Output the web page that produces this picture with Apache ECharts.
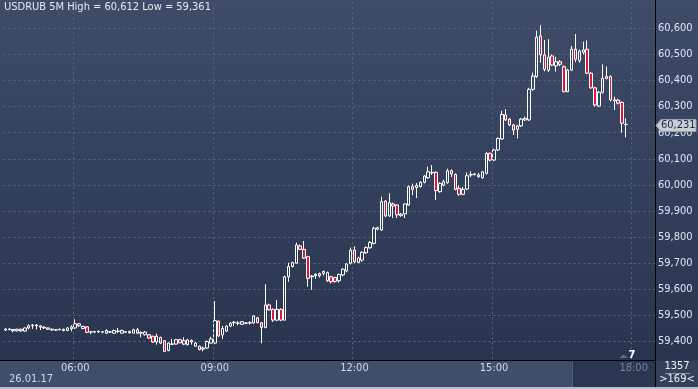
<!DOCTYPE html>
<html><head><meta charset="utf-8">
<script src="https://cdn.jsdelivr.net/npm/echarts@6/dist/echarts.min.js"></script>
<style>html,body{margin:0;padding:0;background:#2a3652;}#c{width:698px;height:389px;}</style>
</head><body><div id="c"></div>
<script>
// ---------- data ----------
const chartTitle = 'USDRUB 5M High = 60,612 Low = 59,361';
const dateLabel = '26.01.17';
const firstSlot = '04:30';          // time of first 5-minute bar
const slotMinutes = 5;
const slotCount = 168;              // visible 5-minute slots
const timeTicks = ['06:00', '09:00', '12:00', '15:00', '18:00'];
const dimTicks = ['18:00'];
const yMin = 59300, yMax = 60700, yStep = 100;
const yShownMin = 59400, yShownMax = 60600;
const lastPrice = 60231;
const footerTop = '1357';
const footerBottom = '>169<';
const markerText = '7';
// [open, close, low, high]
const candles = [
[59444,59448,59440,59450],[59448,59446,59442,59451],[59446,59441,59436,59448],[59441,59447,59438,59449],
[59447,59441,59437,59449],[59440,59452,59438,59454],[59452,59460,59447,59466],[59460,59463,59448,59467],
[59463,59460,59446,59467],[59460,59455,59444,59462],[59455,59452,59448,59457],[59452,59447,59444,59453],
[59447,59444,59441,59450],[59444,59445,59441,59448],[59445,59447,59443,59449],[59447,59442,59439,59449],
[59442,59452,59440,59455],[59449,59456,59439,59462],[59452,59468,59448,59485],[59468,59460,59456,59470],
[59450,59458,59447,59460],[59456,59435,59432,59458],[59436,59437,59428,59440],[59436,59438,59432,59441],
[59437,59439,59433,59442],[59437,59436,59432,59440],[59432,59442,59429,59447],[59437,59436,59432,59440],
[59432,59442,59429,59446],[59439,59440,59432,59452],[59432,59442,59430,59446],[59437,59436,59432,59440],
[59439,59433,59430,59441],[59432,59445,59430,59449],[59445,59432,59428,59452],[59432,59434,59416,59439],
[59426,59436,59423,59440],[59426,59413,59410,59428],[59420,59398,59395,59422],[59398,59420,59388,59430],
[59416,59394,59390,59418],[59403,59362,59361,59405],[59365,59394,59363,59396],[59389,59391,59388,59410],
[59390,59407,59388,59410],[59407,59395,59393,59410],[59390,59403,59386,59416],[59388,59406,59385,59410],
[59404,59398,59388,59408],[59382,59394,59380,59398],[59382,59369,59366,59384],[59371,59375,59362,59381],
[59375,59400,59372,59404],[59394,59410,59392,59418],[59394,59480,59390,59555],[59478,59421,59418,59480],
[59425,59450,59410,59460],[59440,59459,59436,59462],[59459,59470,59455,59474],[59472,59474,59459,59478],
[59471,59470,59462,59478],[59466,59476,59463,59478],[59471,59470,59466,59474],[59471,59472,59465,59478],
[59471,59498,59468,59500],[59491,59472,59470,59494],[59472,59454,59393,59474],[59454,59540,59450,59619],
[59540,59521,59518,59545],[59523,59482,59475,59527],[59482,59523,59478,59559],[59523,59482,59478,59527],
[59482,59648,59480,59652],[59648,59687,59629,59702],[59687,59702,59684,59706],[59700,59770,59698,59779],
[59766,59753,59750,59772],[59753,59719,59716,59785],[59725,59642,59610,59728],[59648,59651,59598,59655],
[59652,59657,59640,59662],[59660,59652,59645,59664],[59661,59668,59652,59672],[59633,59664,59628,59668],
[59648,59629,59622,59652],[59645,59630,59625,59648],[59633,59657,59625,59660],[59655,59677,59650,59680],
[59670,59697,59665,59700],[59700,59750,59695,59760],[59750,59706,59700,59765],[59703,59720,59700,59725],
[59712,59742,59705,59746],[59740,59760,59735,59765],[59759,59779,59755,59785],[59776,59834,59772,59840],
[59830,59836,59826,59840],[59827,59936,59825,59955],[59938,59881,59876,59942],[59881,59932,59878,59968],
[59927,59919,59873,59932],[59923,59885,59873,59926],[59888,59882,59878,59892],[59889,59927,59873,59930],
[59923,59993,59920,59998],[59993,59983,59960,60005],[59990,59998,59950,60007],[59993,60010,59990,60014],
[60010,60034,60006,60038],[60027,60050,60024,60070],[60046,60048,60038,60076],[60048,59978,59942,60052],
[59974,60006,59970,60010],[59999,60012,59995,60020],[60008,60054,60004,60062],[60054,60042,60030,60060],
[60040,59983,59979,60044],[59987,59964,59958,59998],[59964,59983,59960,59992],[59984,60035,59980,60048],
[60038,60040,60030,60052],[60040,60042,60036,60046],[60038,60031,60028,60046],[60027,60050,60024,60054],
[60044,60121,60040,60125],[60121,60095,60090,60124],[60095,60134,60092,60138],[60134,60178,60130,60182],
[60176,60270,60172,60284],[60268,60249,60245,60290],[60252,60230,60225,60256],[60230,60210,60191,60234],
[60213,60226,60178,60230],[60226,60252,60222,60256],[60249,60255,60245,60262],[60249,60366,60245,60372],
[60366,60417,60360,60430],[60415,60566,60410,60591],[60571,60498,60468,60612],[60498,60443,60435,60555],
[60440,60489,60432,60558],[60494,60459,60455,60500],[60456,60472,60434,60491],[60472,60462,60455,60478],
[60453,60357,60355,60458],[60357,60440,60355,60445],[60440,60520,60436,60532],[60520,60481,60470,60578],
[60476,60513,60468,60518],[60508,60517,60500,60549],[60520,60428,60424,60553],[60428,60372,60368,60432],
[60372,60306,60300,60376],[60302,60355,60298,60360],[60355,60408,60350,60462],[60415,60408,60404,60453],
[60415,60325,60320,60420],[60322,60326,60287,60338],[60325,60313,60308,60330],[60316,60236,60200,60320],
[60232,60231,60182,60255]
];

// ---------- build ----------
const categories = [];
(function () {
  let [h, m] = firstSlot.split(':').map(Number);
  let t = h * 60 + m;
  for (let i = 0; i < slotCount; i++, t += slotMinutes) {
    const hh = String(Math.floor(t / 60)).padStart(2, '0');
    const mm = String(t % 60).padStart(2, '0');
    categories.push(hh + ':' + mm);
  }
})();

const FONT = "'Liberation Sans Narrow','Arial Narrow','DejaVu Sans Condensed',sans-serif";
const fmt = v => String(Math.round(v)).replace(/\B(?=(\d{3})+(?!\d))/g, ',');

const chart = echarts.init(document.getElementById('c'), null, {renderer: 'canvas'});

function txt(x, y, text, fill, font, align) {
  return {type: 'text', z: 6, style: {x: x, y: y, text: text, fill: fill, font: font, align: align, verticalAlign: 'middle'}};
}

function graphics(priceY) {
  const g = [
    {type: 'rect', z: 1, shape: {x: 0, y: 360.5, width: 655, height: 27}, style: {fill: '#3f4f69'}},
    {type: 'rect', z: 1, shape: {x: 572, y: 361, width: 83, height: 26}, style: {fill: '#2b3651'}},
    {type: 'line', z: 1, shape: {x1: 572.5, y1: 361, x2: 572.5, y2: 387}, style: {stroke: '#4e5c75', lineWidth: 1}},
    {type: 'rect', z: 1, shape: {x: 656, y: 361, width: 42, height: 26}, style: {fill: '#33415b'}},
    {type: 'rect', z: 1, shape: {x: 0, y: 387, width: 698, height: 2}, style: {fill: '#b6bfcc'}},
    {type: 'line', z: 6, shape: {x1: 0, y1: 360.5, x2: 655, y2: 360.5}, style: {stroke: '#000', lineWidth: 1}},
    {type: 'line', z: 6, shape: {x1: 655.5, y1: 0, x2: 655.5, y2: 387}, style: {stroke: '#000', lineWidth: 1}},
    txt(677, 366.5, footerTop, '#eef2f7', '11px ' + FONT, 'center'),
    {type: 'line', z: 6, shape: {x1: 665, y1: 373.5, x2: 690, y2: 373.5}, style: {stroke: '#8c97a8', lineWidth: 1}},
    txt(677, 379.5, footerBottom, '#eef2f7', '11px ' + FONT, 'center'),
    txt(9, 379, dateLabel, '#c9dbf3', '11px ' + FONT, 'left'),
    {type: 'polygon', z: 6, shape: {points: [[619, 358], [623.5, 354.5], [628, 358]]}, style: {fill: '#5d6b84'}},
    txt(632, 355, markerText, '#ffffff', 'bold 11px ' + FONT, 'center')
  ];
  if (priceY != null) {
    const y = Math.round(priceY) + 0.5;
    g.push({type: 'polygon', z: 7, shape: {points: [[656, y], [661, y - 6], [696, y - 6], [696, y + 6], [661, y + 6]]}, style: {fill: '#c9cdd4', stroke: '#9aa2ae', lineWidth: 1}});
    const t = txt(661, y, fmt(lastPrice), '#1b2944', '11px ' + FONT, 'left');
    t.z = 8;
    g.push(t);
  }
  return g;
}

const tickSet = new Set(timeTicks);
const option = {
  animation: false,
  backgroundColor: new echarts.graphic.LinearGradient(0, 0, 0, 1, [
    {offset: 0, color: '#3e4c68'}, {offset: 0.92, color: '#29354f'}, {offset: 1, color: '#29354f'}
  ]),
  title: {
    text: chartTitle, left: 4, top: 2, padding: 0,
    textStyle: {color: '#e3e9f1', fontSize: 11, fontWeight: 'normal', fontFamily: FONT}
  },
  grid: {left: 3.5, right: 43, top: 2.2, bottom: 21.4, containLabel: false},
  xAxis: {
    type: 'category', data: categories, boundaryGap: true, z: 5,
    axisLine: {show: false}, axisTick: {show: false},
    axisLabel: {
      interval: (i, v) => tickSet.has(v),
      margin: -5, fontSize: 11, fontFamily: FONT,
      color: (v) => dimTicks.includes(v) ? '#75849b' : '#c9dbf3'
    },
    splitLine: {
      show: true, interval: (i, v) => tickSet.has(v),
      lineStyle: {color: '#56667f', type: [2, 3], width: 1}
    }
  },
  yAxis: {
    type: 'value', position: 'right', min: yMin, max: yMax, interval: yStep, scale: true,
    axisLine: {show: false}, axisTick: {show: false},
    axisLabel: {
      margin: 3, fontSize: 11, fontFamily: FONT, color: '#dce7f6',
      showMinLabel: false, showMaxLabel: false,
      formatter: v => (v >= yShownMin && v <= yShownMax) ? fmt(v) : ''
    },
    splitLine: {
      show: true, showMinLine: false, showMaxLine: false,
      lineStyle: {color: '#56667f', type: [2, 3], width: 1}
    }
  },
  series: [{
    type: 'candlestick', data: candles, barWidth: 3,
    itemStyle: {
      color: 'rgba(0,0,0,0)', color0: '#e0163f',
      borderColor: '#ffffff', borderColor0: '#ffffff', borderWidth: 1
    }
  }],
  graphic: graphics(null)
};
chart.setOption(option);
const py = chart.convertToPixel({yAxisIndex: 0}, lastPrice);
chart.setOption({graphic: graphics(py)});
</script></body></html>
